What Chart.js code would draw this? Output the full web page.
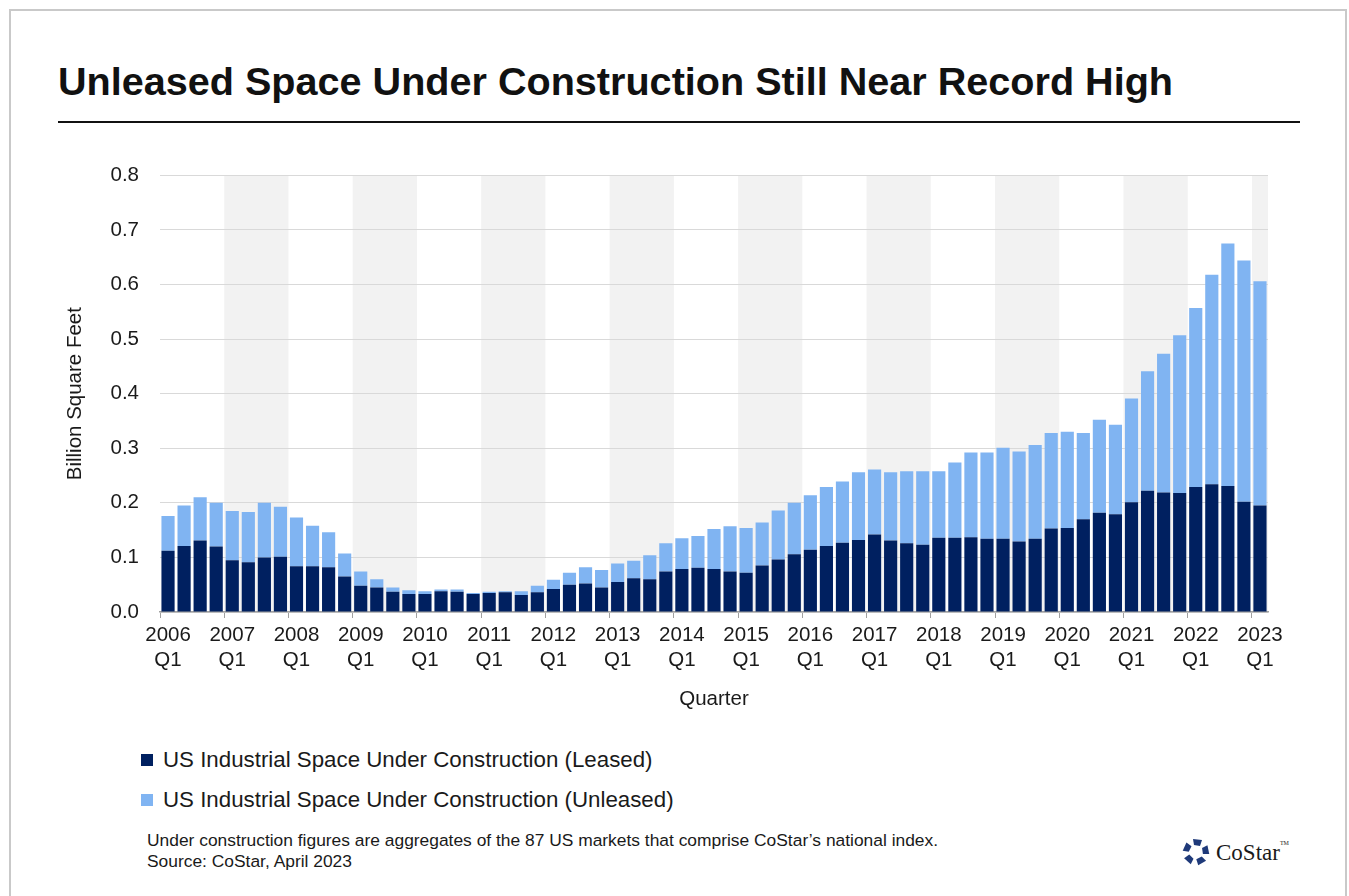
<!DOCTYPE html>
<html>
<head>
<meta charset="utf-8">
<script src="https://cdn.jsdelivr.net/npm/chart.js@4.4.1/dist/chart.umd.min.js"></script>
<style>
  body { margin: 0; background: #fff; font-family: "Liberation Sans", Arial, sans-serif; color: #111; }
  #page { position: relative; width: 1349px; height: 896px; overflow: hidden; }
  #frame { position: absolute; left: 9px; top: 9px; width: 1338px; height: 920px; border: 2px solid #c9c9c9; box-sizing: border-box; }
  h1 { position: absolute; left: 58px; top: 62px; margin: 0; font-size: 39.6px; line-height: 39px; font-weight: bold; white-space: nowrap; }
  #rule { position: absolute; left: 58px; top: 121px; width: 1242px; height: 2px; background: #111; }
  #chartBox { position: absolute; left: 40px; top: 142px; width: 1260px; height: 578px; }
  .leg { position: absolute; left: 163px; font-size: 22.3px; line-height: 26px; white-space: nowrap; color: #1a1a1a; }
  .leg i { position: absolute; left: -22px; top: 7px; width: 12px; height: 12px; }
  #note { position: absolute; left: 147px; top: 830px; font-size: 17.4px; line-height: 21px; color: #1a1a1a; white-space: nowrap; }
  #logo { position: absolute; left: 1182px; top: 838px; height: 30px; white-space: nowrap; }
  #logo span { position: absolute; left: 34px; top: 2px; font-family: "Liberation Serif", "DejaVu Serif", serif; font-size: 23px; color: #1a1a1a; }
  #logo sup { font-size: 6px; position: relative; top: -6px; }
</style>
</head>
<body>
<div id="page">
  <div id="frame"></div>
  <h1>Unleased Space Under Construction Still Near Record High</h1>
  <div id="rule"></div>
  <div id="chartBox"><canvas id="chart"></canvas></div>
  <div class="leg" style="top:747px"><i style="background:#002060"></i>US Industrial Space Under Construction (Leased)</div>
  <div class="leg" style="top:787px"><i style="background:#80b4f2"></i>US Industrial Space Under Construction (Unleased)</div>
  <div id="note">Under construction figures are aggregates of the 87 US markets that comprise CoStar’s national index.<br>Source: CoStar, April 2023</div>
  <div id="logo">
    <svg width="28" height="28" viewBox="-14 -14 28 28">
      <g fill="#1f3a7a">
        <polygon points="-3,-13 6,-12 4,-6 -2,-7" />
        <polygon points="-3,-13 6,-12 4,-6 -2,-7" transform="rotate(72)" />
        <polygon points="-3,-13 6,-12 4,-6 -2,-7" transform="rotate(144)" />
        <polygon points="-3,-13 6,-12 4,-6 -2,-7" transform="rotate(216)" />
        <polygon points="-3,-13 6,-12 4,-6 -2,-7" transform="rotate(288)" />
      </g>
    </svg>
    <span>CoStar<sup>TM</sup></span>
  </div>
</div>
<script>
const years = ['2006', '2007', '2008', '2009', '2010', '2011', '2012', '2013', '2014',
               '2015', '2016', '2017', '2018', '2019', '2020', '2021', '2022', '2023'];
const quarters = ['Q1', 'Q2', 'Q3', 'Q4'];

// billion sq ft, 2006 Q1 .. 2023 Q1
const leased = [
  0.112, 0.121, 0.131, 0.120,  0.095, 0.091, 0.100, 0.101,
  0.084, 0.084, 0.082, 0.065,  0.048, 0.045, 0.037, 0.033,
  0.033, 0.038, 0.037, 0.033,  0.035, 0.036, 0.031, 0.036,
  0.042, 0.050, 0.052, 0.045,  0.055, 0.062, 0.060, 0.074,
  0.079, 0.081, 0.079, 0.074,  0.072, 0.085, 0.096, 0.106,
  0.114, 0.121, 0.127, 0.132,  0.142, 0.131, 0.126, 0.123,
  0.136, 0.136, 0.137, 0.134,  0.134, 0.129, 0.134, 0.153,
  0.154, 0.170, 0.182, 0.179,  0.201, 0.222, 0.219, 0.218,
  0.229, 0.234, 0.231, 0.202,  0.195
];
const unleased = [
  0.064, 0.074, 0.079, 0.080,  0.090, 0.092, 0.100, 0.092,
  0.089, 0.074, 0.064, 0.042,  0.026, 0.015, 0.008, 0.007,
  0.005, 0.003, 0.004, 0.002,  0.002, 0.002, 0.007, 0.012,
  0.017, 0.022, 0.030, 0.032,  0.034, 0.032, 0.044, 0.052,
  0.056, 0.058, 0.073, 0.083,  0.082, 0.079, 0.090, 0.094,
  0.100, 0.108, 0.112, 0.124,  0.119, 0.125, 0.132, 0.135,
  0.122, 0.138, 0.155, 0.158,  0.167, 0.165, 0.172, 0.175,
  0.176, 0.158, 0.170, 0.164,  0.190, 0.219, 0.254, 0.289,
  0.328, 0.384, 0.444, 0.442,  0.411
];

const labels = [];
years.forEach(y => quarters.forEach(q => labels.push(y + ' ' + q)));
labels.length = leased.length;

// grey band behind every other year (2007, 2009, ...)
const yearBands = {
  id: 'yearBands',
  beforeDraw(chart) {
    const { ctx, chartArea, scales: { x } } = chart;
    const half = (x.getPixelForValue(1) - x.getPixelForValue(0)) / 2;
    ctx.save();
    ctx.fillStyle = '#f2f2f2';
    for (let i = 4; i < labels.length; i += 8) {
      const last = Math.min(i + 3, labels.length - 1);
      const left = x.getPixelForValue(i) - half;
      const right = Math.min(x.getPixelForValue(last) + half, chartArea.right);
      ctx.fillRect(left, chartArea.top, right - left, chartArea.bottom - chartArea.top);
    }
    ctx.restore();
  }
};

Chart.defaults.font.family = '"Liberation Sans", Arial, sans-serif';
Chart.defaults.color = '#1a1a1a';

new Chart(document.getElementById('chart'), {
  type: 'bar',
  data: {
    labels: labels,
    datasets: [
      { label: 'US Industrial Space Under Construction (Leased)', data: leased, backgroundColor: '#002060' },
      { label: 'US Industrial Space Under Construction (Unleased)', data: unleased, backgroundColor: '#80b4f2' }
    ]
  },
  options: {
    responsive: true,
    maintainAspectRatio: false,
    animation: false,
    layout: { padding: { top: 17, right: 32, left: 0, bottom: 0 } },
    plugins: { legend: { display: false }, tooltip: { enabled: false } },
    datasets: { bar: { barPercentage: 0.82, categoryPercentage: 1 } },
    scales: {
      x: {
        stacked: true,
        afterFit: (s) => { s.height = 108; },
        grid: {
          offset: true,
          drawOnChartArea: false,
          drawTicks: true,
          tickLength: 6,
          color: (c) => c.index % 4 === 0 ? '#a0a0a0' : 'rgba(0,0,0,0)'
        },
        border: { display: true, color: '#a0a0a0', width: 1.5 },
        ticks: {
          autoSkip: false,
          maxRotation: 0,
          padding: 5,
          font: { size: 20.5, lineHeight: 1.2 },
          callback: (v, i) => {
            const [y, q] = labels[i].split(' ');
            return q === 'Q1' ? [y, q] : '';
          }
        },
        title: { display: true, text: 'Quarter', font: { size: 20.5, lineHeight: 1.2 }, padding: { top: 0, bottom: 8 } }
      },
      y: {
        stacked: true,
        min: 0,
        max: 0.8,
        afterFit: (s) => { s.width = 120; },
        grid: { color: '#d9d9d9', drawTicks: false },
        border: { display: false },
        ticks: { stepSize: 0.1, padding: 21, font: { size: 20.5 }, callback: (v) => v.toFixed(1) },
        title: { display: true, text: 'Billion Square Feet', font: { size: 20.5, lineHeight: 1.2 }, padding: { top: 23, bottom: 0 } }
      }
    }
  },
  plugins: [yearBands]
});
</script>
</body>
</html>
